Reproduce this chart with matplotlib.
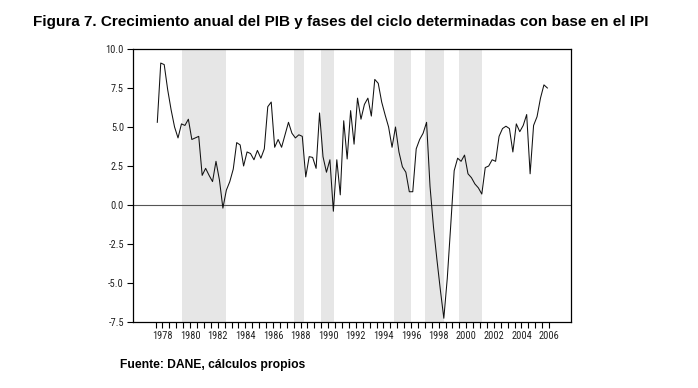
import matplotlib
matplotlib.use("Agg")
import matplotlib.pyplot as plt
from matplotlib import font_manager
import numpy as np

# ---- data ----
start_year = 1978  # first observation: 1978Q1, quarterly
pib_growth = [
    5.3, 9.1, 9.0, 7.4, 6.1, 5.0, 4.3, 5.2, 5.1, 5.5,
    4.2, 4.3, 4.4, 1.9, 2.35, 1.9, 1.5, 2.8, 1.6, -0.2,
    0.95, 1.5, 2.3, 4.0, 3.85, 2.5, 3.4, 3.3, 2.9, 3.5,
    3.0, 3.6, 6.3, 6.6, 3.7, 4.2, 3.7, 4.5, 5.3, 4.6,
    4.3, 4.5, 4.4, 1.8, 3.1, 3.05, 2.35, 5.9, 3.1, 2.1,
    2.9, -0.4, 2.9, 0.65, 5.4, 2.95, 6.05, 3.9, 6.85, 5.5,
    6.45, 6.85, 5.7, 8.05, 7.8, 6.6, 5.77, 5.0, 3.7, 5.0,
    3.4, 2.45, 2.1, 0.85, 0.85, 3.6, 4.2, 4.6, 5.3, 1.2,
    -1.4, -3.5, -5.45, -7.26, -4.7, -1.3, 2.2, 3.0, 2.8, 3.2,
    2.0, 1.75, 1.35, 1.1, 0.7, 2.4, 2.5, 2.9, 2.8, 4.4,
    4.9, 5.05, 4.9, 3.4, 5.2, 4.7, 5.1, 5.8, 2.0, 5.1,
    5.66, 6.85, 7.7, 7.5,
]
# contraction phases (from IPI), in fractional years
phase_start = [1979.8, 1987.88, 1989.83, 1995.16, 1997.39, 1999.83]
phase_end = [1982.95, 1988.60, 1990.80, 1996.37, 1998.79, 2001.49]
year_labels = list(range(1978, 2007, 2))
y_ticks = [-7.5, -5.0, -2.5, 0.0, 2.5, 5.0, 7.5, 10.0]

title = "Figura 7. Crecimiento anual del PIB y fases del ciclo determinadas con base en el IPI"
source = "Fuente: DANE, cálculos propios"

# ---- choose a narrow font for tick labels if one is installed ----
tick_font = dict(family=["DejaVu Sans"], size=6.5)
names = {f.name for f in font_manager.fontManager.ttflist}
found = False
for cand in ["Liberation Sans Narrow", "Arial Narrow", "Roboto Condensed",
             "Open Sans Condensed", "Noto Sans Condensed"]:
    if cand in names:
        tick_font = dict(family=[cand, "DejaVu Sans"], size=7.5)
        found = True
        break
if not found:
    for f in font_manager.fontManager.ttflist:
        if "condensed" in str(f.stretch) or "Condensed" in f.fname:
            tick_font = dict(family=[f.name, "DejaVu Sans"], stretch="condensed", size=7)
            found = True
            break

# ---- plot ----
t = start_year + np.arange(len(pib_growth)) / 4.0

fig = plt.figure(figsize=(6.98, 3.88), dpi=100)
ax = fig.add_axes([133 / 698, 1 - 322 / 388, (571 - 133) / 698, (322 - 49) / 388])

for s, e in zip(phase_start, phase_end):
    ax.axvspan(s, e, color="#e6e6e6", lw=0, zorder=0)

ax.axhline(0, color="#555555", lw=0.8, zorder=1)
ax.plot(t, pib_growth, color="#111111", lw=0.75, zorder=2)

ax.set_xlim(1976.24, 2007.96)
ax.set_ylim(-7.5, 10.0)

ax.set_yticks(y_ticks)
ax.set_yticklabels([f"{v:.1f}" for v in y_ticks], **tick_font, color="#222222")
minor = np.arange(start_year - 0.125, 2006.5, 0.5)
ax.set_xticks(minor, minor=True)
ax.set_xticks([y + 0.375 for y in year_labels])
ax.set_xticklabels([str(y) for y in year_labels], **tick_font, color="#222222")
ax.tick_params(axis="both", which="both", direction="out", length=4, width=0.8,
               color="black", pad=2.5)
for sp in ax.spines.values():
    sp.set_linewidth(0.9)
    sp.set_color("black")

fig.text(33 / 698, 1 - 22 / 388, title, ha="left", va="center",
         family=["Liberation Sans", "DejaVu Sans"], weight="bold", size=10.95)
fig.text(120 / 698, 1 - 365 / 388, source, ha="left", va="center",
         family=["Liberation Sans", "DejaVu Sans"], weight="bold", size=8.7)

fig.savefig("out.png", dpi=100)
